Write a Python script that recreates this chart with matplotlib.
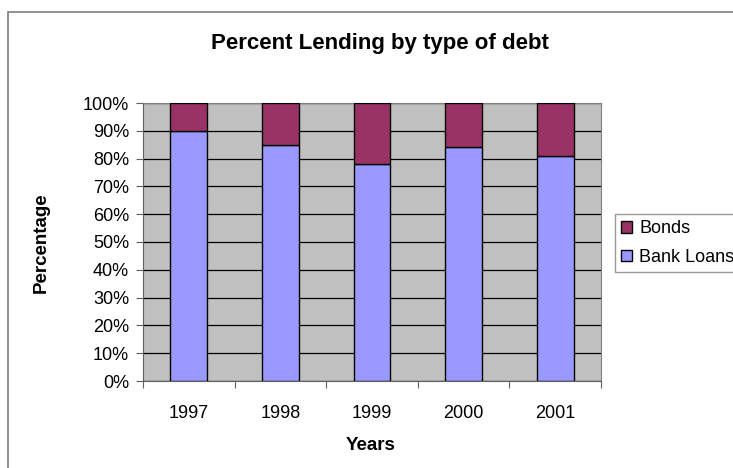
import matplotlib.pyplot as plt
import numpy as np
from matplotlib.patches import Rectangle
from matplotlib.ticker import FixedLocator, PercentFormatter

plt.rcParams['font.family'] = ['Liberation Sans', 'DejaVu Sans']

# Data
years = ['1997', '1998', '1999', '2000', '2001']
bank_loans = [90, 85, 78, 84, 81]
bonds = [10, 15, 22, 16, 19]

W, H = 733, 468
fig = plt.figure(figsize=(W / 100, H / 100), dpi=100)
fig.patch.set_facecolor('white')

# outer chart-area frame (cropped on right and bottom)
fig.patches.append(Rectangle((8 / W, -0.05), 1.0, 1 - 12 / H + 0.05,
                             transform=fig.transFigure, fill=False,
                             edgecolor='#7f7f7f', lw=1.2))

ax = fig.add_axes([143 / W, 87 / H, 458 / W, 278 / H])
ax.set_facecolor('#C0C0C0')

x = np.arange(len(years))
ax.bar(x, bank_loans, width=0.4, color='#9999FF', edgecolor='black',
       linewidth=1, label='Bank Loans', zorder=3)
ax.bar(x, bonds, width=0.4, bottom=bank_loans, color='#993366',
       edgecolor='black', linewidth=1, label='Bonds', zorder=3)

ax.set_xlim(-0.5, len(years) - 0.5)
ax.set_ylim(0, 100)
ax.set_yticks(np.arange(0, 101, 10))
ax.yaxis.set_major_formatter(PercentFormatter(decimals=0))
ax.yaxis.grid(True, color='black', lw=0.9, zorder=1)

ax.xaxis.set_major_locator(FixedLocator(np.arange(-0.5, len(years), 1)))
ax.xaxis.set_minor_locator(FixedLocator(x))
ax.set_xticklabels([], minor=False)
ax.set_xticklabels(years, minor=True)
ax.tick_params(axis='x', which='major', length=5, color='#606060')
ax.tick_params(axis='x', which='minor', length=0, pad=17, labelsize=13)
ax.tick_params(axis='y', length=5, color='#606060', labelsize=13, pad=5)

for side in ['top', 'right']:
    ax.spines[side].set_color('#808080')
for side in ['left', 'bottom']:
    ax.spines[side].set_color('#606060')

fig.text(371 / W, 1 - 445 / H, 'Years', ha='center', va='center',
         fontsize=13.5, fontweight='bold')
fig.text(41 / W, 1 - 243 / H, 'Percentage', ha='center', va='center',
         rotation=90, fontsize=13.5, fontweight='bold')
fig.text(380 / W, 1 - 43 / H, 'Percent Lending by type of debt',
         ha='center', va='center', fontsize=16, fontweight='bold')

handles, labels = ax.get_legend_handles_labels()
leg = fig.legend(handles[::-1], labels[::-1], loc='upper left',
                 bbox_to_anchor=(615 / W, 1 - 214 / H), fontsize=13,
                 frameon=True, fancybox=False, edgecolor='#808080',
                 handlelength=0.6, handleheight=0.6, handletextpad=0.4,
                 borderpad=0.35, labelspacing=0.65, borderaxespad=0)
leg.get_frame().set_linewidth(1)

fig.savefig('out.png', dpi=100, facecolor='white')
